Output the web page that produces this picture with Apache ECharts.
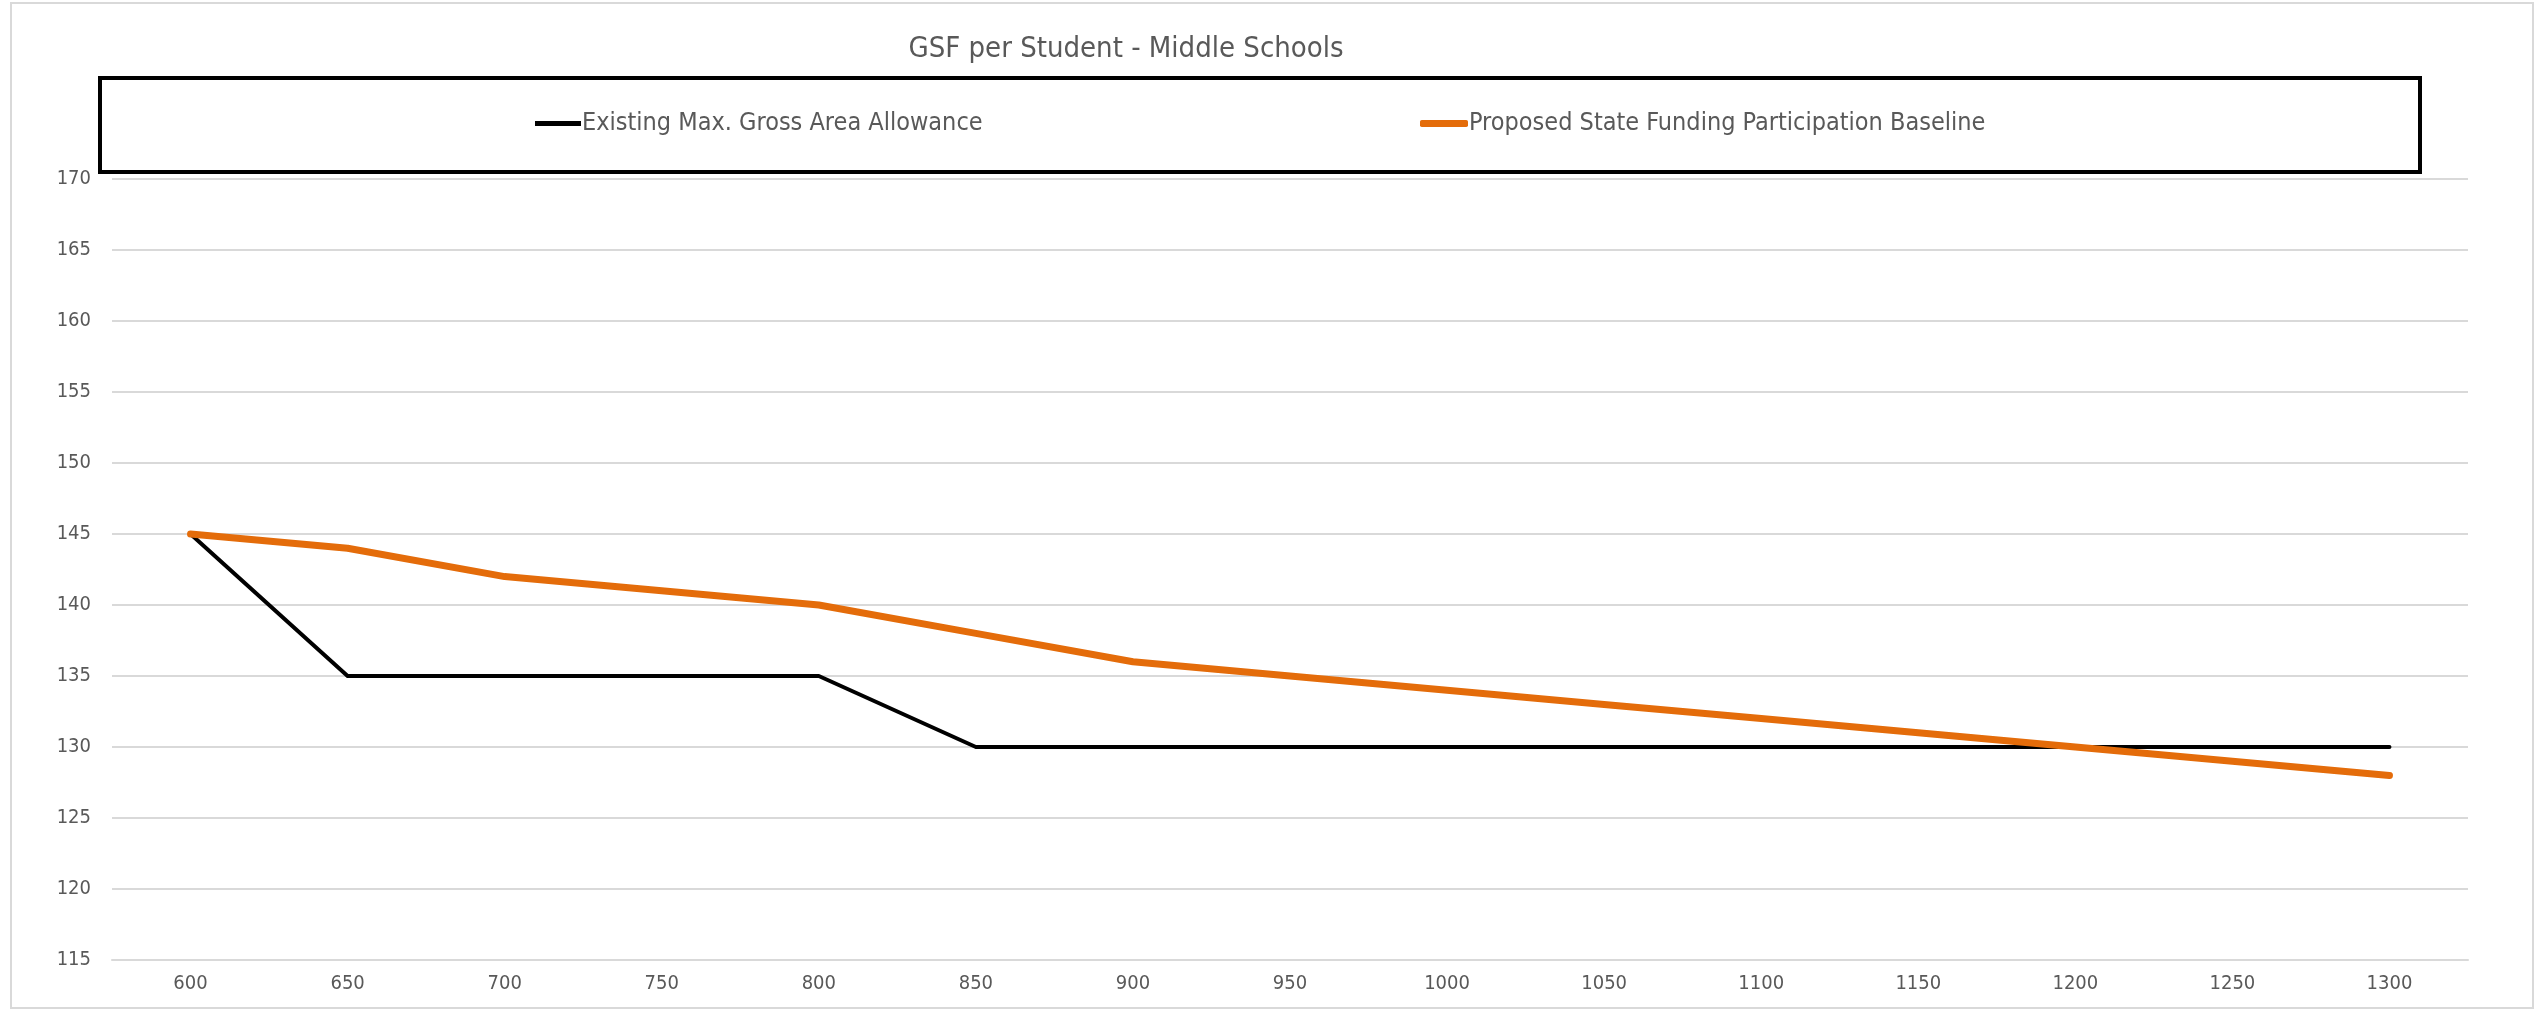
<!DOCTYPE html>
<html>
<head>
<meta charset="utf-8">
<script src="https://cdn.jsdelivr.net/npm/echarts@6/dist/echarts.min.js"></script>
<style>
html,body{margin:0;padding:0;background:#fff;}
#chart{width:2537px;height:1011px;}
</style>
</head>
<body>
<div id="chart"></div>
<script>
const categories = ['600','650','700','750','800','850','900','950','1000','1050','1100','1150','1200','1250','1300'];
const existingValues = [145,135,135,135,135,130,130,130,130,130,130,130,130,130,130];
const proposedValues = [145,144,142,141,140,138,136,135,134,133,132,131,130,129,128];
const seriesNames = ['Existing Max. Gross Area Allowance','Proposed State Funding Participation Baseline'];
const titleText = 'GSF per Student - Middle Schools';

const FONT = "'Liberation Sans Narrow', 'DejaVu Sans Condensed', sans-serif";
const chart = echarts.init(document.getElementById('chart'), null, {renderer:'canvas'});
chart.setOption({
  backgroundColor:'#ffffff',
  animation:false,
  title:{
    text:titleText, left:1121, top:30, textAlign:'center',
    textStyle:{fontFamily:FONT, fontSize:29, fontWeight:'normal', color:'#595959'}
  },
  graphic:[
    {type:'rect', shape:{x:11,y:3,width:2522,height:1005}, style:{fill:null, stroke:'#d9d9d9', lineWidth:2}, silent:true, z:-1},
    {type:'rect', shape:{x:100,y:78,width:2320,height:94}, style:{fill:null, stroke:'#000000', lineWidth:4}, silent:true}
  ],
  legend:[
    {data:[seriesNames[0]], left:535, top:111, icon:'rect', itemWidth:46, itemHeight:5, itemGap:0, padding:0,
     textStyle:{fontFamily:FONT, fontSize:25, color:'#595959', padding:[0,0,0,-4]}},
    {data:[seriesNames[1]], left:1420, top:111, icon:'roundRect', itemWidth:48, itemHeight:7, itemGap:0, padding:0,
     textStyle:{fontFamily:FONT, fontSize:25, color:'#595959', padding:[0,0,0,-4]}}
  ],
  grid:{left:112, right:69, top:179, bottom:51, containLabel:false},
  xAxis:{
    type:'category', data:categories, boundaryGap:true,
    axisLine:{show:true, lineStyle:{color:'#d9d9d9', width:2}},
    axisTick:{show:false},
    axisLabel:{fontFamily:FONT, fontSize:20, color:'#595959', margin:14},
    splitLine:{show:false}
  },
  yAxis:{
    type:'value', min:115, max:170, interval:5,
    axisLine:{show:false}, axisTick:{show:false},
    axisLabel:{fontFamily:FONT, fontSize:20, color:'#595959', margin:21},
    splitLine:{show:true, lineStyle:{color:'#d9d9d9', width:2}}
  },
  series:[
    {name:seriesNames[0], type:'line', data:existingValues, symbol:'none', showSymbol:false,
     lineStyle:{color:'#000000', width:4, cap:'round', join:'round'}, itemStyle:{color:'#000000'}, z:2},
    {name:seriesNames[1], type:'line', data:proposedValues, symbol:'none', showSymbol:false,
     lineStyle:{color:'#E46C0A', width:7, cap:'round', join:'round'}, itemStyle:{color:'#E46C0A'}, z:3}
  ]
});
</script>
</body>
</html>
